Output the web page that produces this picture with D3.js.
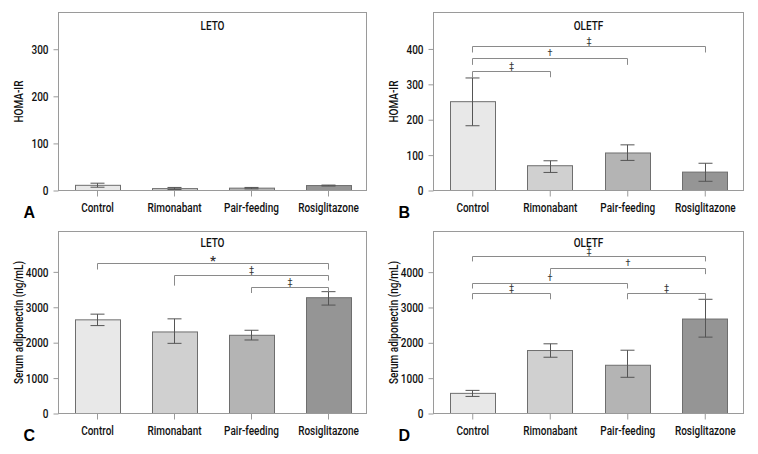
<!DOCTYPE html>
<html><head><meta charset="utf-8">
<script src="https://cdn.jsdelivr.net/npm/d3@7"></script>
<style>
html,body{margin:0;padding:0;background:#fff;}
svg{display:block;}
text{font-family:"Roboto","Liberation Sans",sans-serif;fill:#111;font-weight:500;}
text.letter{font-family:"Liberation Sans","Arial",sans-serif;font-weight:bold;fill:#000;}
text.sym{font-weight:400;fill:#333;}
</style></head>
<body>
<svg id="chart" width="758" height="454"></svg>
<script>
// ---------- data ----------
const categories = ["Control", "Rimonabant", "Pair-feeding", "Rosiglitazone"];
const barColors = ["#e8e8e8", "#d0d0d0", "#b4b4b4", "#959595"];

// Panel A: HOMA-IR, LETO
const homaLetoMean = [11, 4, 5, 10.5];
const homaLetoLow  = [7, 2, 3.5, 9.5];
const homaLetoHigh = [15.5, 6.5, 6.5, 11.5];
const homaLetoTicks = [0, 100, 200, 300];

// Panel B: HOMA-IR, OLETF
const homaOletfMean = [251, 70, 106, 52];
const homaOletfLow  = [183, 51, 85, 26];
const homaOletfHigh = [318, 84, 129, 77];
const homaOletfTicks = [0, 100, 200, 300, 400];

// Panel C: adiponectin, LETO
const adipoLetoMean = [2645, 2303, 2209, 3270];
const adipoLetoLow  = [2483, 1981, 2076, 3062];
const adipoLetoHigh = [2806, 2673, 2351, 3441];
const adipoTicks = [0, 1000, 2000, 3000, 4000];

// Panel D: adiponectin, OLETF
const adipoOletfMean = [570, 1782, 1365, 2673];
const adipoOletfLow  = [483, 1592, 1024, 2161];
const adipoOletfHigh = [654, 1972, 1791, 3232];

// significance brackets: [fromIndex, toIndex, level, leftEnd, rightEnd, symbol]
const bracketsA = [];
const bracketsB = [
  [0, 3, 408, 390, 390, "‡"],
  [0, 2, 374, 355, 355, "†"],
  [0, 1, 339, 318, 320, "‡"]
];
const bracketsC = [
  [0, 3, 4256, 4066, 4066, "*"],
  [1, 3, 3924, 3611, 3753, "‡"],
  [2, 3, 3573, 3403, 3441, "‡"]
];
const bracketsD = [
  [0, 3, 4464, 4303, 4303, "‡"],
  [1, 3, 4114, 3943, 3943, "†"],
  [0, 2, 3687, 3536, 3536, "†"],
  [0, 1, 3412, 3232, 3232, "‡"],
  [2, 3, 3412, 3232, 3232, "‡"]
];

// ---------- layout ----------
const panels = [
  {letter: "A", title: "LETO",  yLabel: "HOMA-IR", mean: homaLetoMean, low: homaLetoLow, high: homaLetoHigh,
   ticks: homaLetoTicks, yMax: 378, br: bracketsA, x0: 58.5, x1: 366.5, y0: 12.5, y1: 190.5, tOff: 17.5},
  {letter: "B", title: "OLETF", yLabel: "HOMA-IR", mean: homaOletfMean, low: homaOletfLow, high: homaOletfHigh,
   ticks: homaOletfTicks, yMax: 503, br: bracketsB, x0: 433.5, x1: 743.5, y0: 12.5, y1: 190.5, tOff: 17.5},
  {letter: "C", title: "LETO",  yLabel: "Serum adiponectin (ng/mL)", mean: adipoLetoMean, low: adipoLetoLow, high: adipoLetoHigh,
   ticks: adipoTicks, yMax: 5140, br: bracketsC, x0: 58.5, x1: 366.5, y0: 231.5, y1: 413.5, tOff: 15},
  {letter: "D", title: "OLETF", yLabel: "Serum adiponectin (ng/mL)", mean: adipoOletfMean, low: adipoOletfLow, high: adipoOletfHigh,
   ticks: adipoTicks, yMax: 5150, br: bracketsD, x0: 433.5, x1: 743.5, y0: 231.5, y1: 413.5, tOff: 15}
];

const SX = 0.77;           // horizontal condensing of text
const FS = 13;
const svg = d3.select("#chart");
const frameColor = "#9a9a9a";

function addText(g, x, y, str, anchor, size, rot) {
  return g.append("text")
    .attr("transform", `translate(${x},${y}) rotate(${rot || 0}) scale(${SX},1)`)
    .attr("text-anchor", anchor).attr("font-size", size || FS).text(str);
}

panels.forEach(p => {
  const g = svg.append("g");
  const x = d3.scaleBand().domain(categories).range([p.x0, p.x1]).paddingInner(0.42).paddingOuter(0.21);
  const y = d3.scaleLinear().domain([0, p.yMax]).range([p.y1, p.y0]);

  // bars
  g.selectAll("rect.bar").data(categories).join("rect")
    .attr("x", d => Math.round(x(d)) + 0.5)
    .attr("y", (d, i) => y(p.mean[i]))
    .attr("width", Math.round(x.bandwidth()))
    .attr("height", (d, i) => p.y1 - y(p.mean[i]))
    .attr("fill", (d, i) => barColors[i])
    .attr("stroke", "#6e6e6e").attr("stroke-width", 1);

  // error bars
  const cx = d => Math.round(x(d) + x.bandwidth() / 2) + 0.5;
  const eb = g.selectAll("g.eb").data(categories).join("g");
  eb.append("line").attr("x1", cx).attr("x2", cx)
    .attr("y1", (d, i) => y(p.low[i])).attr("y2", (d, i) => y(p.high[i]));
  eb.append("line").attr("x1", d => cx(d) - 7).attr("x2", d => cx(d) + 7)
    .attr("y1", (d, i) => y(p.high[i])).attr("y2", (d, i) => y(p.high[i]));
  eb.append("line").attr("x1", d => cx(d) - 7).attr("x2", d => cx(d) + 7)
    .attr("y1", (d, i) => y(p.low[i])).attr("y2", (d, i) => y(p.low[i]));
  eb.selectAll("line").attr("stroke", "#555").attr("stroke-width", 1);

  // frame
  g.append("rect").attr("x", p.x0).attr("y", p.y0)
    .attr("width", p.x1 - p.x0).attr("height", p.y1 - p.y0)
    .attr("fill", "none").attr("stroke", frameColor).attr("stroke-width", 1);

  // y axis
  const yAxis = d3.axisLeft(y).tickValues(p.ticks).tickSize(5).tickPadding(3).tickFormat(d3.format("d"));
  const ya = g.append("g").attr("transform", `translate(${p.x0},0)`).call(yAxis);
  ya.select(".domain").remove();
  ya.selectAll("line").attr("stroke", frameColor);
  ya.selectAll("text").attr("font-size", FS).attr("font-family", null)
    .attr("x", -10 / SX).attr("transform", `scale(${SX},1)`);

  // x axis
  const xAxis = d3.axisBottom(x).tickSize(6).tickPadding(6);
  const xa = g.append("g").attr("transform", `translate(0.5,${p.y1})`).call(xAxis);
  xa.select(".domain").remove();
  xa.selectAll("line").attr("stroke", frameColor);
  xa.selectAll("text").attr("font-size", FS).attr("font-family", null)
    .attr("transform", `scale(${SX},1)`);

  // title
  addText(g, (p.x0 + p.x1) / 2, p.y0 + p.tOff, p.title, "middle");

  // y label
  addText(g, p.x0 - 35.5, (p.y0 + p.y1) / 2, p.yLabel, "middle", FS, -90);

  // panel letter
  g.append("text").attr("class", "letter").attr("x", p.x0 - 35).attr("y", p.y1 + 27)
    .attr("font-size", 16).text(p.letter);

  // brackets
  p.br.forEach(b => {
    const xa1 = cx(categories[b[0]]), xb1 = cx(categories[b[1]]);
    const yl = Math.round(y(b[2])) + 0.5;
    g.append("path")
      .attr("d", `M${xa1},${y(b[3])}V${yl}H${xb1}V${y(b[4])}`)
      .attr("fill", "none").attr("stroke", "#8a8a8a").attr("stroke-width", 1);
    const isStar = b[5] === "*";
    g.append("text").attr("class", "sym").attr("x", (xa1 + xb1) / 2).attr("y", isStar ? yl + 1 : yl - 3)
      .attr("text-anchor", "middle").attr("font-size", isStar ? 13 : 9)
      .style("font-weight", isStar ? "bold" : null).text(b[5]);
  });
});
</script>
</body></html>
